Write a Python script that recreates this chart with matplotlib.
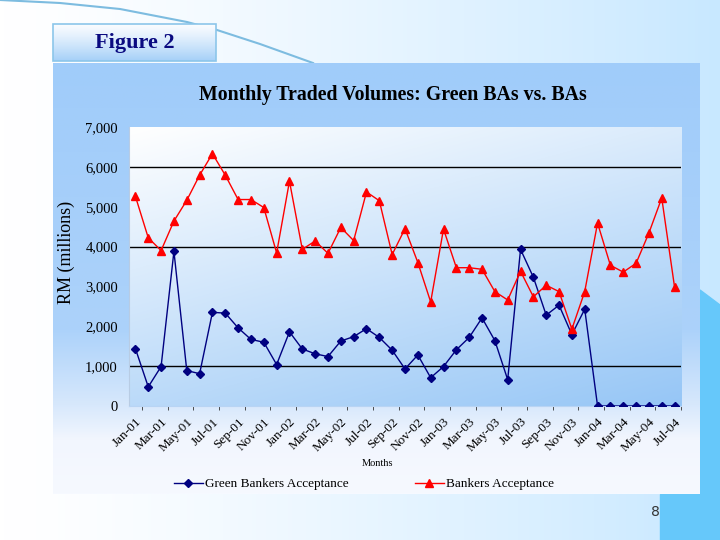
import numpy as np
import pandas as pd
import matplotlib
matplotlib.use("Agg")
import matplotlib.pyplot as plt
from matplotlib.lines import Line2D
from matplotlib.patches import Polygon, Rectangle

# data (RM millions, Jan-01 .. Jul-04)
months = pd.date_range("2001-01-01", periods=43, freq="MS").strftime("%b-%y").tolist()
green_ba = [1440, 480, 990, 3880, 890, 810, 2350, 2330, 1960, 1670,
            1600, 1040, 1860, 1430, 1310, 1240, 1630, 1740, 1940, 1720,
            1400, 930, 1280, 710, 990, 1410, 1720, 2210, 1640, 660,
            3930, 3230, 2280, 2530, 1790, 2430, 0, 0, 0, 0,
            0, 0, 0]
bankers_ba = [5260, 4220, 3900, 4640, 5160, 5790, 6330, 5790, 5180, 5180,
              4980, 3840, 5640, 3930, 4140, 3830, 4480, 4150, 5370, 5150,
              3800, 4450, 3600, 2610, 4440, 3470, 3470, 3430, 2870, 2660,
              3380, 2740, 3030, 2870, 1930, 2870, 4590, 3530, 3360, 3580,
              4340, 5220, 2980]
y_ticks = [0, 1000, 2000, 3000, 4000, 5000, 6000, 7000]
grid_levels = [1000, 4000, 6000]

serif = "Liberation Serif"
W, H = 720, 540

fig = plt.figure(figsize=(7.2, 5.4), dpi=100)

# slide background, in pixel coordinates
bg = fig.add_axes([0, 0, 1, 1])
bg.set_xlim(0, W)
bg.set_ylim(H, 0)
bg.axis("off")

xx = np.linspace(0, 1, 200)
left_c = np.array([255, 255, 255]) / 255
right_c = np.array([200, 232, 255]) / 255
slide = np.zeros((2, 200, 3))
slide[:, :, :] = left_c + (right_c - left_c) * xx[None, :, None] ** 1.3
bg.imshow(slide, extent=[0, W, H, 0], aspect="auto", zorder=0)

# decorative arc at top
arc_x = np.array([0, 60, 120, 187, 217, 260, 313])
arc_y = np.array([0, 3, 9, 22, 30, 44, 63])
bg.plot(arc_x, arc_y, color="#7DBCE0", lw=1.5, zorder=1)

# right side bright blue shapes
bg.add_patch(Polygon([[700, 290], [720, 305], [720, 540], [700, 540]],
                     closed=True, color="#66C8FA", zorder=1))
bg.add_patch(Rectangle((660, 494), 60, 46, color="#66C8FA", zorder=1))

# chart panel with vertical gradient
yy = np.linspace(63, 494, 300)
stops_y = [63, 330, 405, 440, 494]
stops_c = np.array([[160, 204, 250], [172, 210, 250], [215, 232, 252],
                    [242, 246, 254], [246, 249, 255]]) / 255
panel = np.zeros((300, 2, 3))
for k in range(3):
    panel[:, :, k] = np.interp(yy, stops_y, stops_c[:, k])[:, None]
bg.imshow(panel, extent=[53, 700, 494, 63], aspect="auto", zorder=2)

# Figure 2 box
fy = np.linspace(0, 1, 100)
top_c = np.array([250, 252, 255]) / 255
bot_c = np.array([165, 208, 248]) / 255
fbox = np.zeros((100, 2, 3))
fbox[:, :, :] = (top_c + (bot_c - top_c) * fy[:, None] ** 1.2)[:, None, :]
bg.imshow(fbox, extent=[53, 216, 61, 24], aspect="auto", zorder=2)
bg.add_patch(Rectangle((53, 24), 163, 37, fill=False, ec="#8CC6EA", lw=1.2, zorder=3))
bg.text(135, 43, "Figure 2", family=serif, fontsize=16, fontweight="bold",
        color="#0A0A80", ha="center", va="center", zorder=4)

bg.text(655, 512, "8", fontsize=10, color="#333333", ha="center", va="center")

# main plot
ax = fig.add_axes([129 / W, 1 - 406 / H, (681 - 129) / W, (406 - 127) / H])
ax.patch.set_visible(False)

# plot area gradient: white top-left to blue bottom-right
gx, gy = np.meshgrid(np.linspace(0, 1, 200), np.linspace(0, 1, 200))
t = 0.35 * gx + 0.65 * gy
c0 = np.array([255, 255, 255]) / 255
c1 = np.array([150, 198, 246]) / 255
plot_bg = c0 + (c1 - c0) * t[:, :, None]
ax.imshow(plot_bg, extent=[0, 1, 0, 1], transform=ax.transAxes,
          aspect="auto", zorder=0)

x = np.arange(len(months))
for lvl in grid_levels:
    ax.axhline(lvl, color="black", lw=1, zorder=1)

ax.plot(x, green_ba, color="#000080", lw=1, marker="D", markersize=4, zorder=3)
ax.plot(x, bankers_ba, color="#FF0000", lw=1, marker="^", markersize=5.5, zorder=3)

ax.set_xlim(-0.5, len(months) - 0.5)
ax.set_ylim(0, 7000)
ax.set_yticks(y_ticks)
ax.set_yticklabels([f"{v:,}" for v in y_ticks], family=serif, fontsize=10.5)
ax.tick_params(axis="y", length=0, pad=8)

ax.set_xticks(x[::2])
ax.set_xticklabels(months[::2], family=serif, fontsize=9.5, rotation=45,
                   ha="right", rotation_mode="anchor")
ax.tick_params(axis="x", length=0, pad=7)
ax.set_xticks(x[::2] + 0.5, minor=True)
ax.tick_params(axis="x", which="minor", length=3, color="#333333", direction="out")

for s in ["top", "right"]:
    ax.spines[s].set_visible(False)
ax.spines["left"].set_color("#B8CCE4")
ax.spines["bottom"].set_color("#B8D4F4")

ax.set_ylabel("RM (millions)", family=serif, fontsize=13)
ax.yaxis.set_label_coords(-0.098, 0.55)
fig.text(378 / W, 1 - 463 / H, "Months", family=serif, fontsize=7.5,
         ha="center", va="center")
fig.text(393 / W, 1 - 95 / H, "Monthly Traded Volumes: Green BAs vs. BAs",
         family=serif, fontsize=14.3, fontweight="bold", ha="center", va="center")

handles = [Line2D([], [], color="#000080", lw=1, marker="D", markersize=4),
           Line2D([], [], color="#FF0000", lw=1, marker="^", markersize=5.5)]
fig.legend(handles, ["Green Bankers Acceptance", "Bankers Acceptance"],
           loc="center", bbox_to_anchor=(364 / W, 1 - 484 / H), ncol=2,
           frameon=False, prop={"family": serif, "size": 9.5},
           handlelength=2.2, handletextpad=0.2, columnspacing=5)

fig.savefig("out.png", dpi=100)
